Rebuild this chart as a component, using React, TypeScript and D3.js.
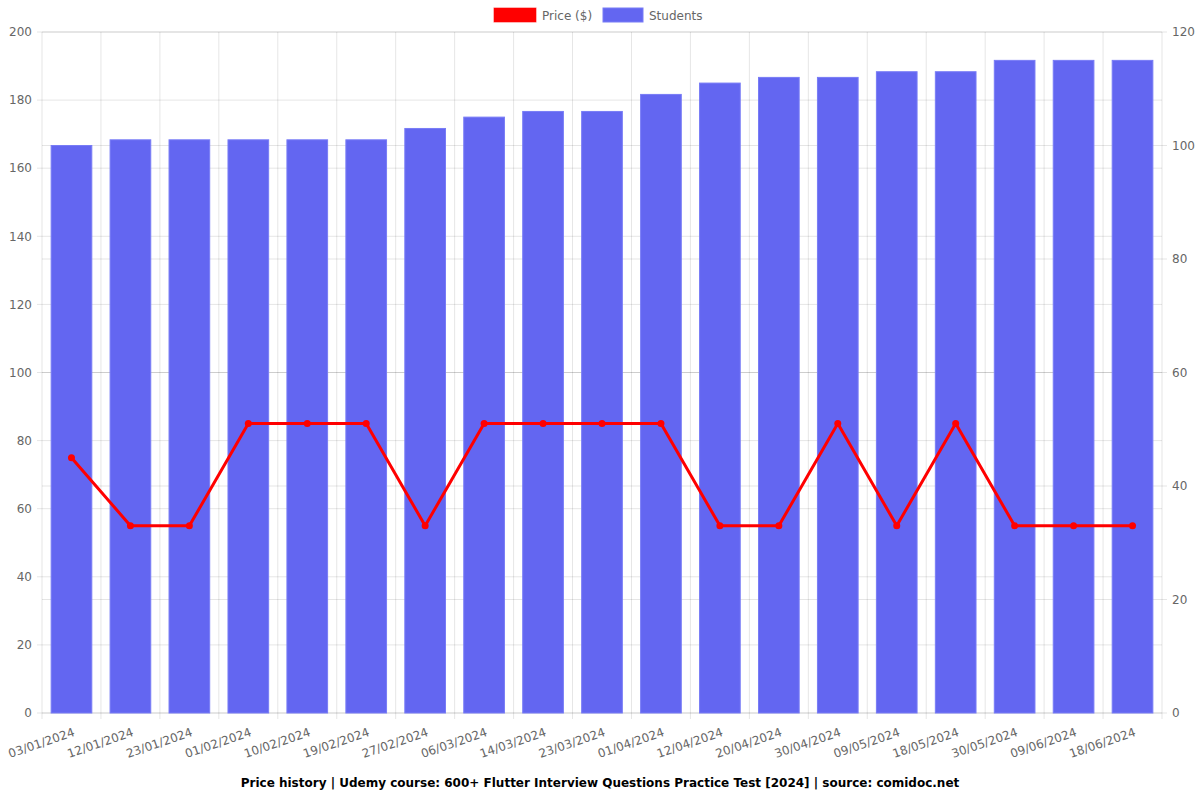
import React from "react";
import * as d3 from "d3";

const dates = ["03/01/2024","12/01/2024","23/01/2024","01/02/2024","10/02/2024","19/02/2024","27/02/2024","06/03/2024","14/03/2024","23/03/2024","01/04/2024","12/04/2024","20/04/2024","30/04/2024","09/05/2024","18/05/2024","30/05/2024","09/06/2024","18/06/2024"];
const prices = [74.99,54.99,54.99,84.99,84.99,84.99,54.99,84.99,84.99,84.99,84.99,54.99,54.99,84.99,54.99,84.99,54.99,54.99,54.99];
const students = [100,101,101,101,101,101,103,105,106,106,109,111,112,112,113,113,115,115,115];
const leftTicks = [0,20,40,60,80,100,120,140,160,180,200];
const rightTicks = [0,20,40,60,80,100,120];
const title = "Price history | Udemy course: 600+ Flutter Interview Questions Practice Test [2024] | source: comidoc.net";

const W = 1200, H = 800;
const L = 42, R = 1162, T = 32, B = 713;
const FONT = "DejaVu Sans, sans-serif";
const GRID = "rgba(0,0,0,0.1)";
const TXT = "#666";

export default function App() {
  const x = d3.scaleBand<string>().domain(dates).range([L, R]).paddingInner(0).paddingOuter(0);
  const yL = d3.scaleLinear().domain([0, 200]).range([B, T]);
  const yR = d3.scaleLinear().domain([0, 120]).range([B, T]);
  const bw = x.bandwidth();
  const barW = bw * 0.69;
  const cx = (d: string) => (x(d) as number) + bw / 2;
  const line = d3.line<number>().x((_, i) => cx(dates[i])).y((v) => yL(v));
  const boundaries = dates.map((d) => x(d) as number).concat([R]);

  return (
    <svg width={W} height={H} style={{ display: "block", position: "absolute", left: 0, top: 0 }} fontFamily={FONT}>
      <rect width={W} height={H} fill="#fff" />
      {leftTicks.map((t) => (
        <line key={"gl" + t} x1={L - 5} x2={R} y1={yL(t)} y2={yL(t)} stroke={GRID} />
      ))}
      {rightTicks.map((t) => (
        <line key={"gr" + t} x1={L} x2={R + 5} y1={yR(t)} y2={yR(t)} stroke={GRID} />
      ))}
      {boundaries.map((b, i) => (
        <line key={"gv" + i} x1={b} x2={b} y1={T} y2={B + 6} stroke={GRID} />
      ))}
      {students.map((s, i) => (
        <rect key={"b" + i} x={cx(dates[i]) - barW / 2} y={yR(s)} width={barW} height={B - yR(s)}
          fill="rgb(99,102,241)" stroke="rgba(120,124,246,1)" strokeWidth={1} />
      ))}
      <path d={line(prices) || ""} fill="none" stroke="#ff0000" strokeWidth={3} strokeLinejoin="round" />
      {prices.map((p, i) => (
        <circle key={"p" + i} cx={cx(dates[i])} cy={yL(p)} r={3.5} fill="#ff0000" />
      ))}
      {leftTicks.map((t) => (
        <text key={"tl" + t} x={L - 10} y={yL(t)} dy="0.35em" textAnchor="end" fontSize={12} fill={TXT}>{t}</text>
      ))}
      {rightTicks.map((t) => (
        <text key={"tr" + t} x={R + 10} y={yR(t)} dy="0.35em" textAnchor="start" fontSize={12} fill={TXT}>{t}</text>
      ))}
      {dates.map((d) => (
        <text key={"x" + d} transform={`translate(${cx(d) + 1},${B + 14}) rotate(-19)`} textAnchor="end" dy="0.75em"
          fontSize={12} fill={TXT}>{d}</text>
      ))}
      <rect x={494} y={8} width={42} height={14} fill="#ff0000" stroke="rgba(255,0,0,0.6)" />
      <text x={542} y={16} dy="0.35em" fontSize={12} fill={TXT}>Price ($)</text>
      <rect x={603} y={8} width={40} height={14} fill="rgb(99,102,241)" stroke="rgba(120,124,246,1)" />
      <text x={649} y={16} dy="0.35em" fontSize={12} fill={TXT}>Students</text>
      <text x={600} y={783} dy="0.35em" textAnchor="middle" fontSize={12} fontWeight="bold" fill="#000">{title}</text>
    </svg>
  );
}
